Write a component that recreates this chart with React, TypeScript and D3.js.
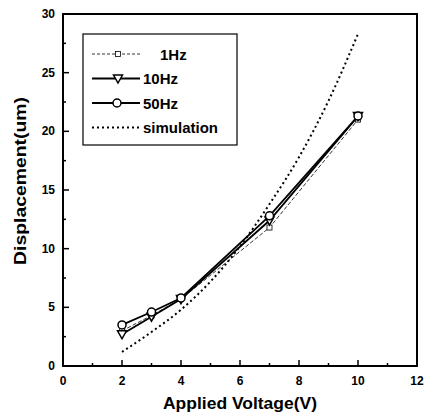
import React, { useRef, useEffect } from 'react';
import * as d3 from 'd3';

const voltages = [2, 3, 4, 7, 10];
const hz1 = [3.0, 4.3, 5.7, 11.8, 21.0];
const hz10 = [2.7, 4.2, 5.7, 12.4, 21.3];
const hz50 = [3.5, 4.6, 5.8, 12.8, 21.3];
const simVoltages = [2, 3, 4, 5, 6, 7, 8, 9, 10];
const simValues = [1.2, 2.9, 4.8, 7.2, 10.2, 13.8, 17.8, 22.6, 28.3];
const xTicks = [0, 2, 4, 6, 8, 10, 12];
const yTicks = [0, 5, 10, 15, 20, 25, 30];
const legendLabels = ['1Hz', '10Hz', '50Hz', 'simulation'];

const App = () => {
  const ref = useRef<SVGSVGElement>(null);
  useEffect(() => {
    const svg = d3.select(ref.current);
    svg.selectAll('*').remove();
    const x = d3.scaleLinear().domain([0, 12]).range([63, 417]);
    const y = d3.scaleLinear().domain([0, 30]).range([366, 14]);
    const font = 'Liberation Sans, Arial, sans-serif';

    // frame
    svg.append('rect')
      .attr('x', x(0)).attr('y', y(30))
      .attr('width', x(12) - x(0)).attr('height', y(0) - y(30))
      .attr('fill', 'none').attr('stroke', '#000').attr('stroke-width', 2);

    // ticks (inward)
    d3.range(0, 12.01, 1).forEach((v) => {
      const len = v % 2 === 0 ? 6 : 3;
      svg.append('line').attr('x1', x(v)).attr('x2', x(v))
        .attr('y1', y(0)).attr('y2', y(0) - len)
        .attr('stroke', '#000').attr('stroke-width', 1.5);
    });
    d3.range(0, 30.01, 2.5).forEach((v) => {
      const len = v % 5 === 0 ? 6 : 3;
      svg.append('line').attr('x1', x(0)).attr('x2', x(0) + len)
        .attr('y1', y(v)).attr('y2', y(v))
        .attr('stroke', '#000').attr('stroke-width', 1.5);
    });
    svg.append('g').selectAll('text').data(xTicks).enter().append('text')
      .attr('x', (d) => x(d)).attr('y', y(0) + 19)
      .attr('text-anchor', 'middle').attr('font-family', font)
      .attr('font-weight', 'bold').attr('font-size', 12).text((d) => d);
    svg.append('g').selectAll('text').data(yTicks).enter().append('text')
      .attr('x', x(0) - 8).attr('y', (d) => y(d) + 4)
      .attr('text-anchor', 'end').attr('font-family', font)
      .attr('font-weight', 'bold').attr('font-size', 12).text((d) => d);

    svg.append('text').attr('x', 240).attr('y', 409)
      .attr('text-anchor', 'middle').attr('font-family', font)
      .attr('font-weight', 'bold').attr('font-size', 17)
      .attr('textLength', 154).attr('lengthAdjust', 'spacingAndGlyphs')
      .text('Applied Voltage(V)');
    svg.append('text').attr('transform', 'translate(26,181) rotate(-90)')
      .attr('text-anchor', 'middle').attr('font-family', font)
      .attr('font-weight', 'bold').attr('font-size', 16)
      .attr('textLength', 168).attr('lengthAdjust', 'spacingAndGlyphs')
      .text('Displacement(um)');

    const line = d3.line<number>().x((d, i) => x(voltages[i])).y((d) => y(d));
    const simLine = d3.line<number>().curve(d3.curveMonotoneX)
      .x((d, i) => x(simVoltages[i])).y((d) => y(d));

    svg.append('path').attr('d', simLine(simValues)!)
      .attr('fill', 'none').attr('stroke', '#000').attr('stroke-width', 2)
      .attr('stroke-dasharray', '2,3');
    svg.append('path').attr('d', line(hz1)!)
      .attr('fill', 'none').attr('stroke', '#000').attr('stroke-width', 0.8)
      .attr('stroke-dasharray', '4,2');
    svg.append('path').attr('d', line(hz10)!)
      .attr('fill', 'none').attr('stroke', '#000').attr('stroke-width', 1.8);
    svg.append('path').attr('d', line(hz50)!)
      .attr('fill', 'none').attr('stroke', '#000').attr('stroke-width', 1.8);

    const tri = (cx: number, cy: number) => `M${cx - 4.5},${cy - 3.5}L${cx + 4.5},${cy - 3.5}L${cx},${cy + 4.5}Z`;
    hz1.forEach((d, i) => {
      svg.append('rect').attr('x', x(voltages[i]) - 2.5).attr('y', y(d) - 2.5)
        .attr('width', 5).attr('height', 5).attr('fill', '#fff')
        .attr('stroke', '#000').attr('stroke-width', 0.8);
    });
    hz10.forEach((d, i) => {
      svg.append('path').attr('d', tri(x(voltages[i]), y(d)))
        .attr('fill', '#fff').attr('stroke', '#000').attr('stroke-width', 1.5);
    });
    hz50.forEach((d, i) => {
      svg.append('circle').attr('cx', x(voltages[i])).attr('cy', y(d)).attr('r', 4)
        .attr('fill', '#fff').attr('stroke', '#000').attr('stroke-width', 1.5);
    });

    // legend
    const lg = svg.append('g');
    lg.append('rect').attr('x', 83).attr('y', 34).attr('width', 154).attr('height', 111)
      .attr('fill', '#fff').attr('stroke', '#000').attr('stroke-width', 1.2);
    legendLabels.forEach((lab, i) => {
      const ly = 54 + i * 24.5;
      const l = lg.append('line').attr('x1', 92).attr('x2', 140).attr('y1', ly).attr('y2', ly)
        .attr('stroke', '#000');
      if (i === 0) l.attr('stroke-width', 0.8).attr('stroke-dasharray', '3,2');
      else if (i === 3) l.attr('stroke-width', 2).attr('stroke-dasharray', '2,3');
      else l.attr('stroke-width', 1.8);
      if (i === 0) lg.append('rect').attr('x', 115.5).attr('y', ly - 2.5).attr('width', 5).attr('height', 5)
        .attr('fill', '#fff').attr('stroke', '#000').attr('stroke-width', 0.8);
      if (i === 1) lg.append('path').attr('d', tri(118, ly)).attr('fill', '#fff')
        .attr('stroke', '#000').attr('stroke-width', 1.5);
      if (i === 2) lg.append('circle').attr('cx', 117).attr('cy', ly).attr('r', 4)
        .attr('fill', '#fff').attr('stroke', '#000').attr('stroke-width', 1.5);
      lg.append('text').attr('x', i === 0 ? 160 : 143).attr('y', ly + 5.5)
        .attr('font-family', font).attr('font-weight', 'bold').attr('font-size', 15).text(lab);
    });
  }, []);
  return <svg ref={ref} width={425} height={414} style={{ position: 'absolute', left: 0, top: 0 }} />;
};

export default App;
